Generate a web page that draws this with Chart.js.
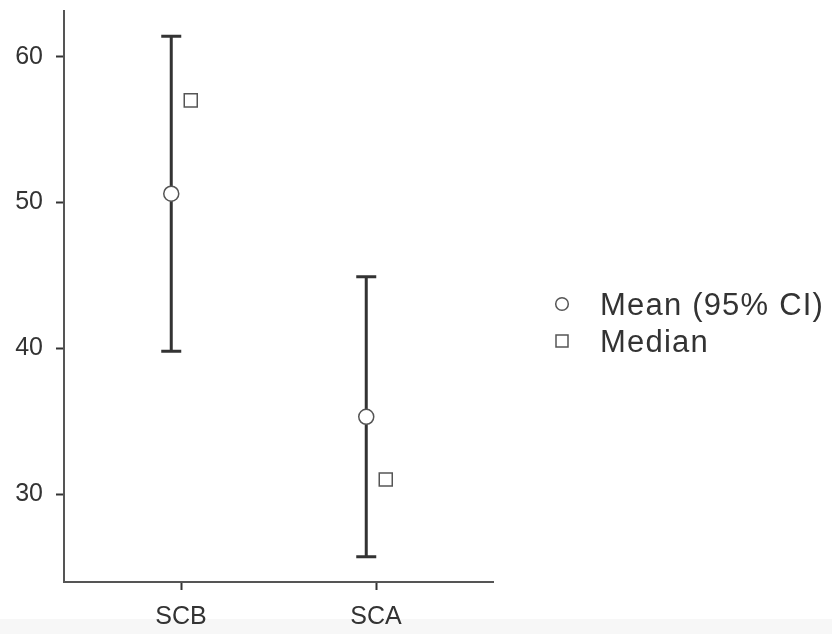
<!DOCTYPE html>
<html><head><meta charset="utf-8">
<script src="https://cdn.jsdelivr.net/npm/chart.js@4"></script>
<style>
html,body{margin:0;padding:0;background:#f7f7f7;}
#wrap{width:832px;height:634px;position:relative;background:linear-gradient(#ffffff 0,#ffffff 619px,#f7f7f7 619px);}
canvas{display:block;}
</style></head>
<body><div id="wrap"><canvas id="c" width="832" height="634"></canvas></div>
<script>
const categories = ['SCB', 'SCA'];
const meanValues = [50.6, 35.3];
const ciLower = [39.8, 25.7];
const ciUpper = [61.4, 44.9];
const medianValues = [57.0, 31.0];
const yTicks = [30, 40, 50, 60];
const seriesNames = ['Mean (95% CI)', 'Median'];

const dodge = 0.05;
const FONT = '"Liberation Sans", Arial, Helvetica, sans-serif';

const meanPoints = meanValues.map((v, i) => ({x: i + 1 - dodge, y: v}));
const medianPoints = medianValues.map((v, i) => ({x: i + 1 + dodge, y: v}));

const errorBarPlugin = {
  id: 'errorBars',
  beforeDatasetsDraw(chart) {
    const ctx = chart.ctx, xs = chart.scales.x, ys = chart.scales.y;
    ctx.save();
    ctx.strokeStyle = '#333333';
    ctx.lineWidth = 3;
    ctx.lineCap = 'butt';
    meanValues.forEach((m, i) => {
      const px = xs.getPixelForValue(i + 1 - dodge);
      const top = ys.getPixelForValue(ciUpper[i]);
      const bot = ys.getPixelForValue(ciLower[i]);
      ctx.beginPath();
      ctx.moveTo(px, top); ctx.lineTo(px, bot);
      ctx.moveTo(px - 10, top); ctx.lineTo(px + 10, top);
      ctx.moveTo(px - 10, bot); ctx.lineTo(px + 10, bot);
      ctx.stroke();
    });
    ctx.restore();
  }
};

const legendPlugin = {
  id: 'customLegend',
  afterDraw(chart) {
    const ctx = chart.ctx;
    ctx.save();
    const mx = 562, rows = [304, 341];
    ctx.lineWidth = 1.5;
    ctx.strokeStyle = '#555555';
    ctx.fillStyle = '#ffffff';
    ctx.beginPath(); ctx.arc(mx, rows[0], 6.3, 0, Math.PI * 2); ctx.fill(); ctx.stroke();
    ctx.beginPath(); ctx.rect(mx - 6, rows[1] - 6, 12, 12); ctx.fill(); ctx.stroke();
    ctx.fillStyle = '#333333';
    ctx.font = '31px ' + FONT;
    ctx.letterSpacing = '1.2px';
    ctx.textAlign = 'left';
    ctx.textBaseline = 'alphabetic';
    ctx.fillText(seriesNames[0], 600, rows[0] + 11);
    ctx.fillText(seriesNames[1], 600, rows[1] + 11);
    ctx.restore();
  }
};

const axisGrid = {display: true, drawOnChartArea: false, drawTicks: true, tickLength: 8, tickColor: '#333333', tickWidth: 2};
const axisBorder = {display: true, color: '#555555', width: 2};

new Chart(document.getElementById('c'), {
  type: 'scatter',
  data: {
    datasets: [
      {label: seriesNames[0], data: meanPoints, pointStyle: 'circle', pointRadius: 7.5,
       pointBackgroundColor: '#ffffff', pointBorderColor: '#555555', pointBorderWidth: 1.5},
      {label: seriesNames[1], data: medianPoints, pointStyle: 'rect', pointRadius: 9.2,
       pointBackgroundColor: '#ffffff', pointBorderColor: '#555555', pointBorderWidth: 1.5}
    ]
  },
  options: {
    responsive: false,
    animation: false,
    events: [],
    layout: {padding: {top: 10, right: 339, bottom: 0, left: 0}},
    plugins: {legend: {display: false}, tooltip: {enabled: false}},
    scales: {
      x: {
        type: 'linear', min: 0.4, max: 2.6,
        afterBuildTicks: s => { s.ticks = categories.map((c, i) => ({value: i + 1})); },
        afterFit: s => { s.height = 52; s.paddingLeft = 0; s.paddingRight = 0; },
        ticks: {callback: (v, i) => categories[i], font: {family: FONT, size: 25}, color: '#333333',
                padding: 12, autoSkip: false, maxRotation: 0},
        grid: axisGrid, border: axisBorder
      },
      y: {
        type: 'linear', min: 23.97, max: 63.15,
        afterBuildTicks: s => { s.ticks = yTicks.map(v => ({value: v})); },
        afterFit: s => { s.width = 64; s.paddingTop = 0; s.paddingBottom = 0; },
        ticks: {font: {family: FONT, size: 25}, color: '#333333', padding: 13},
        grid: axisGrid, border: axisBorder
      }
    }
  },
  plugins: [errorBarPlugin, legendPlugin]
});
</script>
</body></html>
